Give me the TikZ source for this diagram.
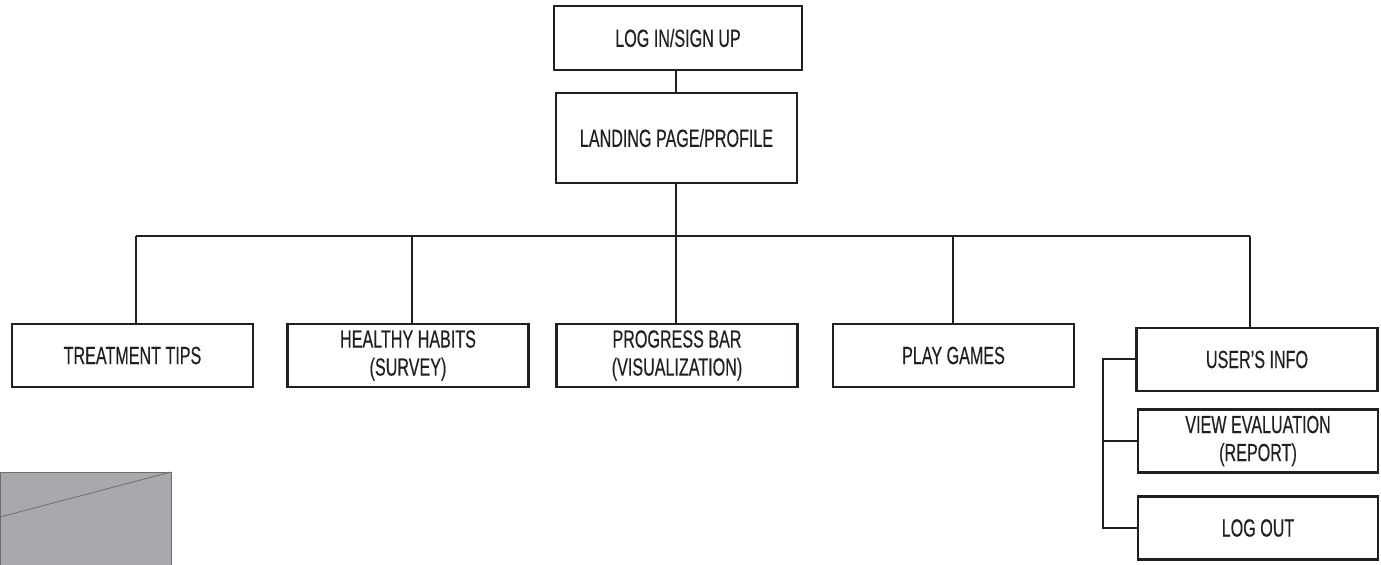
\documentclass[tikz,border=0pt]{standalone}
\usepackage{fontspec}
\setmainfont{Liberation Sans}[FakeStretch=0.65, FakeBold=0.4]
\usepackage{tikz}

\definecolor{ink}{HTML}{231F20}
\definecolor{slate}{HTML}{A7A9AC}
\definecolor{slateline}{HTML}{6D6E71}

\begin{document}
\begin{tikzpicture}[x=0.5pt, y=-0.5pt,
    box/.style={draw=ink, line width=1.1pt, inner sep=0pt, align=center,
      text=ink, minimum width=120.5pt, minimum height=31.5pt,
      font=\fontsize{12.4}{14}\selectfont},
    link/.style={draw=ink, line width=1pt}]
    \def\busy{236} \def\brk{1103}

    \useasboundingbox (0, 0) rectangle (1381, 565);

    % grey placeholder in the lower left corner
    \filldraw [fill=slate, draw=slateline, line width=0.4pt] (0, 472)
    rectangle (171, 570);
    \draw [slateline, line width=0.4pt] (0, 517) -- (171, 472);

    \node [box, minimum width=124pt, minimum height=32pt] (login) at
    (678, 38) {LOG IN/SIGN UP};

    \node [box, minimum height=45pt] (landing) at (676.5, 138)
    {LANDING PAGE/PROFILE};

    \node [box] (tips) at (132.5, 355.5) {TREATMENT TIPS};
    \node [box] (habits) at (408, 355.5) {HEALTHY HABITS\\(SURVEY)};
    \node [box] (progress) at (677, 355.5) {PROGRESS BAR\\(VISUALIZATION)};
    \node [box] (games) at (953.5, 355.5) {PLAY GAMES};

    \node [box] (users) at (1257, 359.5) {USER'S INFO};
    \node [box, minimum width=120pt] (evaluation) at (1258, 441)
    {VIEW EVALUATION\\(REPORT)};
    \node [box, minimum width=120pt] (logout) at (1258, 528) {LOG OUT};

    % bus points
    \coordinate (top) at (676, \busy);
    \coordinate (b1) at (136, \busy);
    \coordinate (b2) at (412, \busy);
    \coordinate (b4) at (953, \busy);
    \coordinate (b5) at (1250, \busy);

    \draw [link] (login.south -| top) -- (landing.north -| top);
    \draw [link] (landing.south -| top) -- (top);
    \draw [link] (b1) -- (b5);

    \draw [link] (b1) -- (b1 |- tips.north);
    \draw [link] (b2) -- (b2 |- habits.north);
    \draw [link] (top) -- (top |- progress.north);
    \draw [link] (b4) -- (b4 |- games.north);
    \draw [link] (b5) -- (b5 |- users.north);

    % bracket for the account pages
    \draw [link] (users.west) -- (\brk, 0 |- users.west) |- (logout.west);
    \draw [link] (\brk, 0 |- evaluation.west) -- (evaluation.west);

  \end{tikzpicture}
\end{document}
